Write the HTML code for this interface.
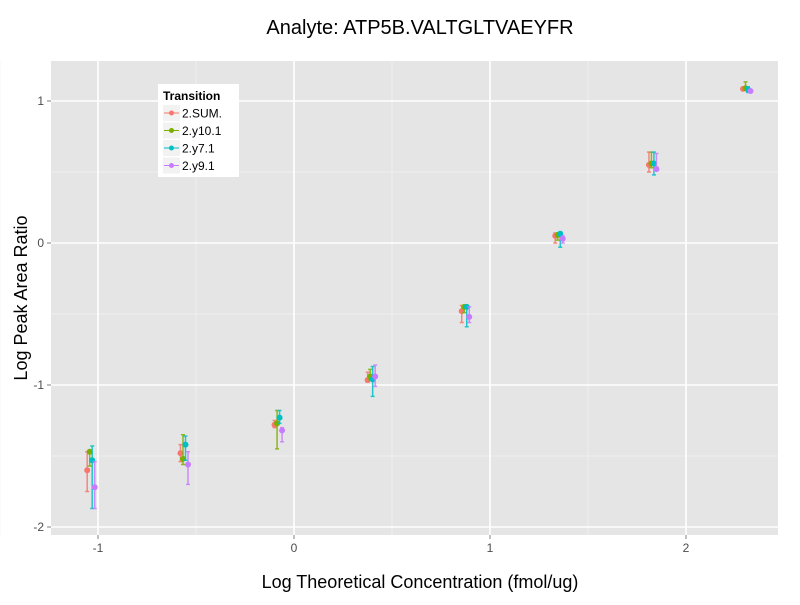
<!DOCTYPE html>
<html><head><meta charset="utf-8"><style>
body{margin:0;background:#fff}
svg{font-family:"Liberation Sans",sans-serif}
</style></head><body>
<svg id="chart" width="800" height="600" xmlns="http://www.w3.org/2000/svg">
<rect x="51" y="61" width="727" height="474" fill="#e5e5e5"/>
<g id="grid"></g>
<g id="marks"></g>
<g id="axes"></g>
<text x="420" y="34" text-anchor="middle" font-size="20">Analyte: ATP5B.VALTGLTVAEYFR</text>
<text x="420" y="588" text-anchor="middle" font-size="18">Log Theoretical Concentration (fmol/ug)</text>
<text transform="translate(27,298) rotate(-90)" text-anchor="middle" font-size="18">Log Peak Area Ratio</text>
<g>
<rect x="158" y="84" width="81" height="93" fill="#fff"/>
<text x="163" y="100" font-size="12" font-weight="bold">Transition</text>
<g id="legend-items"></g>
</g>
</svg>
<script>
const xConc = [-1.036, -0.56, -0.08, 0.395, 0.875, 1.352, 1.83, 2.31];
const seriesNames = ["2.SUM.", "2.y10.1", "2.y7.1", "2.y9.1"];
const colors = ["#F8766D", "#7CAE00", "#00BFC4", "#C77CFF"];
const sumVal = [-1.60, -1.48, -1.28, -0.965, -0.48, 0.05, 0.55, 1.085];
const sumLo  = [-1.75, -1.54, -1.30, -0.98, -0.56, 0.00, 0.50, 1.085];
const sumHi  = [-1.47, -1.42, -1.25, -0.91, -0.44, 0.07, 0.64, 1.085];
const y10Val = [-1.47, -1.52, -1.27, -0.94, -0.45, 0.056, 0.56, 1.09];
const y10Lo  = [-1.57, -1.56, -1.45, -0.965, -0.49, 0.02, 0.53, 1.08];
const y10Hi  = [-1.46, -1.35, -1.18, -0.89, -0.44, 0.07, 0.64, 1.135];
const y7Val  = [-1.53, -1.42, -1.23, -0.96, -0.45, 0.063, 0.56, 1.08];
const y7Lo   = [-1.87, -1.53, -1.27, -1.08, -0.59, -0.03, 0.48, 1.06];
const y7Hi   = [-1.43, -1.36, -1.18, -0.87, -0.44, 0.08, 0.64, 1.10];
const y9Val  = [-1.72, -1.56, -1.32, -0.94, -0.52, 0.03, 0.52, 1.07];
const y9Lo   = [-1.87, -1.70, -1.40, -1.01, -0.56, 0.00, 0.535, 1.07];
const y9Hi   = [-1.54, -1.47, -1.30, -0.86, -0.45, 0.05, 0.63, 1.07];
const xTicks = [-1, 0, 1, 2];
const yTicks = [-2, -1, 0, 1];

const NS = "http://www.w3.org/2000/svg";
const X = v => 294 + 196 * v;
const Y = v => 243 - 142 * v;
function mk(tag, attrs, parent){const e=document.createElementNS(NS,tag);for(const k in attrs)e.setAttribute(k,attrs[k]);parent.appendChild(e);return e;}
const grid = document.getElementById("grid"), axes = document.getElementById("axes"), marks = document.getElementById("marks");
[-1.5,-0.5,0.5,1.5].forEach(v=>{const l=mk("line",{x1:X(v),x2:X(v),y1:61,y2:535,stroke:"#f2f2f2","stroke-width":0.7},grid);

});
[-1.5,-0.5,0.5].forEach(v=>{const l=mk("line",{x1:51,x2:778,y1:Y(v),y2:Y(v),stroke:"#f2f2f2","stroke-width":0.7},grid);

});
xTicks.forEach(v=>{const l=mk("line",{x1:X(v),x2:X(v),y1:61,y2:535,stroke:"#fff","stroke-width":1.6},grid);


mk("line",{x1:X(v),x2:X(v),y1:535,y2:539,stroke:"#7f7f7f"},axes);
const t=mk("text",{x:X(v),y:552,"text-anchor":"middle","font-size":12,fill:"#4d4d4d"},axes);t.textContent=v;

});
yTicks.forEach(v=>{const l=mk("line",{x1:51,x2:778,y1:Y(v),y2:Y(v),stroke:"#fff","stroke-width":1.6},grid);


mk("line",{x1:47,x2:51,y1:Y(v),y2:Y(v),stroke:"#7f7f7f"},axes);
const t=mk("text",{x:44,y:Y(v)+4,"text-anchor":"end","font-size":12,fill:"#4d4d4d"},axes);t.textContent=v;

});
const series=[[sumVal,sumLo,sumHi],[y10Val,y10Lo,y10Hi],[y7Val,y7Lo,y7Hi],[y9Val,y9Lo,y9Hi]];
const offs=[-3.75,-1.25,1.25,3.75];
series.forEach((s,si)=>{const g=mk("g",{},marks);


xConc.forEach((xv,i)=>{const cx=X(xv)+offs[si];const c=colors[si];
const eb=mk("path",{d:`M${cx},${Y(s[1][i])}V${Y(s[2][i])}M${cx-2},${Y(s[1][i])}h4M${cx-2},${Y(s[2][i])}h4`,stroke:c,"stroke-width":1.5,fill:"none",opacity:0.85},g);


const p=mk("circle",{cx:cx,cy:Y(s[0][i]),r:3,fill:c},g);

});});
const li=document.getElementById("legend-items");
seriesNames.forEach((n,i)=>{const y=113+i*17.5;const g=mk("g",{},li);


mk("rect",{x:163,y:y-8,width:17,height:16,fill:"#f2f2f2"},g);
mk("line",{x1:164,x2:179,y1:y,y2:y,stroke:colors[i]},g);
mk("circle",{cx:171.5,cy:y,r:2.5,fill:colors[i]},g);
const t=mk("text",{x:182,y:y+4.5,"font-size":12},g);t.textContent=n;});
</script>
</body></html>
